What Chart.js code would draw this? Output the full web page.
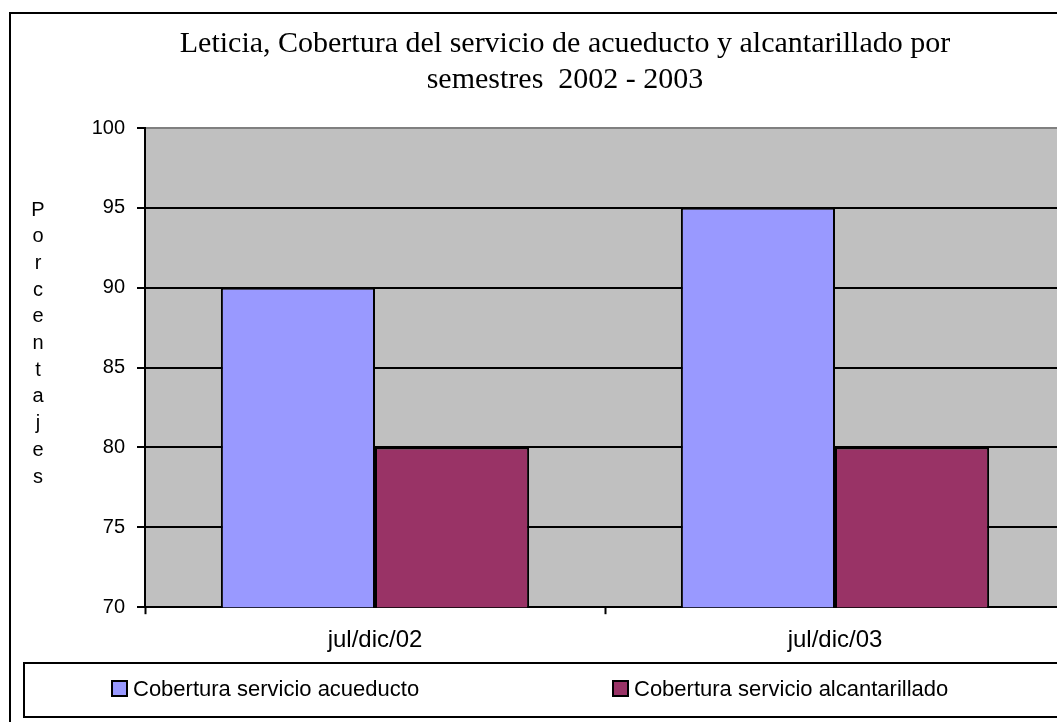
<!DOCTYPE html>
<html>
<head>
<meta charset="utf-8">
<script src="https://cdn.jsdelivr.net/npm/chart.js@4/dist/chart.umd.min.js"></script>
<style>
  html, body { margin: 0; padding: 0; background: #fff; overflow: hidden; }
  #wrap { position: absolute; left: 0; top: 0; width: 1130px; height: 722px; }
</style>
</head>
<body>
<div id="wrap"><canvas id="grafico" width="1130" height="722"></canvas></div>
<script>
var categorias = ['jul/dic/02', 'jul/dic/03'];
var acueducto = [90, 95];
var alcantarillado = [80, 80];
var etiquetas = ['Cobertura servicio acueducto', 'Cobertura servicio alcantarillado'];
var tituloEje = 'Porcentajes';

var arial = '"Liberation Sans", Arial, sans-serif';
var times = '"Liberation Serif", "Times New Roman", serif';

// fondo gris, marco exterior, titulo vertical del eje y leyenda estilo Excel
var marco = {
  id: 'marco',
  beforeDraw: function(chart) {
    var ctx = chart.ctx, a = chart.chartArea;
    ctx.save();
    ctx.fillStyle = '#fff';
    ctx.fillRect(0, 0, chart.width, chart.height);
    ctx.fillStyle = '#C0C0C0';
    ctx.fillRect(a.left, a.top, a.right - a.left, a.bottom - a.top);
    ctx.restore();
  },
  afterDraw: function(chart) {
    var ctx = chart.ctx;
    ctx.save();
    ctx.strokeStyle = '#000';
    ctx.lineWidth = 2;
    ctx.strokeRect(10, 13, 1200, 800);

    // letras del titulo del eje, una debajo de otra
    ctx.fillStyle = '#000';
    ctx.font = '20px ' + arial;
    ctx.textAlign = 'center';
    ctx.textBaseline = 'middle';
    for (var i = 0; i < tituloEje.length; i++) {
      ctx.fillText(tituloEje[i], 38, 210 + i * 26.7);
    }

    // leyenda
    ctx.strokeRect(24, 663, 1200, 54);
    var xs = [112, 613];
    ctx.font = '22px ' + arial;
    ctx.textAlign = 'left';
    ctx.textBaseline = 'alphabetic';
    chart.data.datasets.forEach(function(ds, k) {
      ctx.fillStyle = ds.backgroundColor;
      ctx.fillRect(xs[k], 681, 15, 15);
      ctx.lineWidth = 2;
      ctx.strokeRect(xs[k], 681, 15, 15);
      ctx.fillStyle = '#000';
      ctx.fillText(ds.label, xs[k] + 21, 696);
    });
    ctx.restore();
  }
};

var grafico = new Chart(document.getElementById('grafico').getContext('2d'), {
  type: 'bar',
  data: {
    labels: categorias,
    datasets: [{
      label: etiquetas[0],
      data: acueducto,
      backgroundColor: '#9999FF',
      borderColor: '#000',
      borderWidth: 2,
      borderSkipped: false
    }, {
      label: etiquetas[1],
      data: alcantarillado,
      backgroundColor: '#993366',
      borderColor: '#000',
      borderWidth: 2,
      borderSkipped: false
    }]
  },
  options: {
    responsive: false,
    animation: false,
    events: [],
    layout: { padding: { left: 65, right: 65, top: 0, bottom: 55 } },
    datasets: { bar: { categoryPercentage: 0.67, barPercentage: 1 } },
    plugins: {
      legend: { display: false },
      tooltip: { enabled: false },
      title: {
        display: true,
        text: ['Leticia, Cobertura del servicio de acueducto y alcantarillado por', 'semestres  2002 - 2003'],
        color: '#000',
        font: { family: times, size: 30, weight: 'normal', lineHeight: 36 / 30 },
        padding: { top: 26, bottom: 30 }
      }
    },
    scales: {
      x: {
        offset: true,
        grid: { offset: true, drawOnChartArea: false, tickLength: 7, tickColor: '#000', tickWidth: 2 },
        border: { color: '#000', width: 2 },
        ticks: { color: '#000', padding: 12, font: { family: arial, size: 24 } }
      },
      y: {
        min: 70,
        max: 100,
        afterFit: function(s) { s.width = 80; },
        ticks: { stepSize: 5, color: '#000', padding: 12, font: { family: arial, size: 20 } },
        grid: {
          color: function(c) { return c.tick && c.tick.value === 100 ? '#808080' : '#000'; },
          lineWidth: 2,
          tickLength: 8,
          tickColor: '#000'
        },
        border: { color: '#000', width: 2 }
      }
    }
  },
  plugins: [marco]
});
</script>
</body>
</html>
